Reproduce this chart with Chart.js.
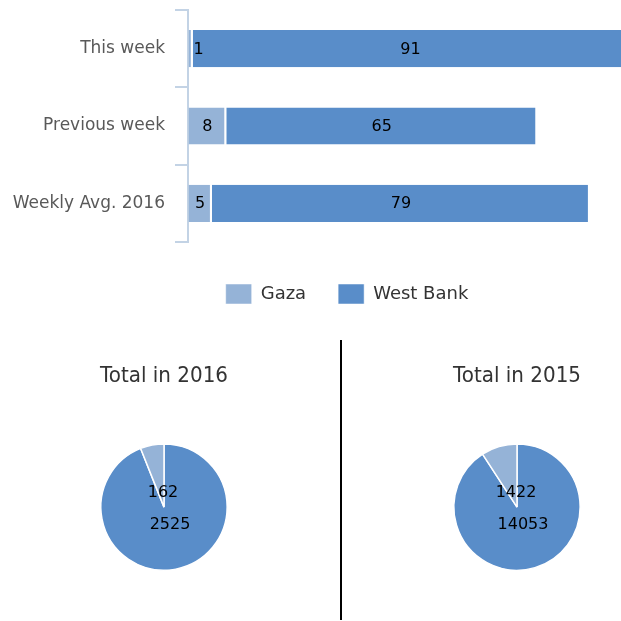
<!DOCTYPE html>
<html>
<head>
<meta charset="utf-8">
<script src="https://cdn.jsdelivr.net/npm/chart.js@4.4.0/dist/chart.umd.min.js"></script>
<style>
  html, body { margin: 0; padding: 0; background: #fff; }
  body { width: 621px; height: 621px; position: relative; overflow: hidden; }
  canvas { position: absolute; }
  #bars { left: 0; top: 0; }
  #pie2016 { left: 60px; top: 340px; }
  #pie2015 { left: 413px; top: 340px; }
  #divider { position: absolute; left: 340px; top: 340px; width: 2px; height: 280px; background: #000; }
</style>
</head>
<body>
<canvas id="bars" width="621" height="314"></canvas>
<div id="divider"></div>
<canvas id="pie2016" width="208" height="280"></canvas>
<canvas id="pie2015" width="208" height="280"></canvas>
<script>
/* ── Data ───────────────────────────────────────────────────── */
const periods   = ['This week', 'Previous week', 'Weekly Avg. 2016'];
const seriesNames = ['Gaza', 'West Bank'];
const gazaWeekly = [1, 8, 5];
const westBankWeekly = [91, 65, 79];

const pieLabels = ['West Bank', 'Gaza'];
const total2016 = [2525, 162];
const total2015 = [14053, 1422];

/* ── Palette ────────────────────────────────────────────────── */
const palette = {
    gaza:  '#95b3d7',
    west:  '#598dc9',
    axis:  '#c3d3e5',
    label: '#595959',
    text:  '#333333',
};
const FONT = "'DejaVu Sans', Verdana, sans-serif";

/* value labels inside the stacked bars */
const barLabels = {
    id: 'barLabels',
    afterDatasetsDraw(chart) {
        const ctx = chart.ctx;
        ctx.save();
        ctx.font = '16px ' + FONT;
        ctx.fillStyle = '#000';
        ctx.textAlign = 'center';
        ctx.textBaseline = 'middle';
        chart.data.datasets.forEach((ds, i) => {
            chart.getDatasetMeta(i).data.forEach((bar, j) => {
                const txt = String(ds.data[j]);
                const tw = ctx.measureText(txt).width;
                const x = Math.max((bar.x + bar.base) / 2, bar.base + tw / 2 + 5);
                ctx.fillText(txt, x, bar.y + 1);
            });
        });
        ctx.restore();
    },
};

// legend sits left of the bar area's centre, so the legend box runs past the right edge
new Chart(document.getElementById('bars'), {
    type: 'bar',
    data: {
        labels: periods,
        datasets: [
            { label: seriesNames[0], data: gazaWeekly, backgroundColor: palette.gaza },
            { label: seriesNames[1], data: westBankWeekly, backgroundColor: palette.west },
        ],
    },
    options: {
        indexAxis: 'y',
        responsive: false,
        animation: false,
        datasets: {
            bar: {
                barPercentage: 0.48,
                categoryPercentage: 1,
                borderColor: '#fff',
                borderSkipped: false,
                borderWidth: { left: 0, top: 0, bottom: 0, right: 2 },
            },
        },
        layout: { padding: { top: 10, left: 0, right: -73, bottom: 0 } },
        scales: {
            x: {
                stacked: true,
                min: 0,
                max: 90.5,
                ticks: { display: false },
                border: { display: false },
                grid: { drawOnChartArea: false, drawTicks: true, tickLength: 10, color: 'rgba(0,0,0,0)' },
            },
            y: {
                stacked: true,
                afterFit: s => { s.width = 188; s.paddingTop = 0; s.paddingBottom = 0; },
                border: { color: palette.axis, width: 2 },
                grid: { drawOnChartArea: false, tickLength: 13, color: palette.axis, lineWidth: 2 },
                ticks: { color: palette.label, padding: 10, font: { family: FONT, size: 17 } },
            },
        },
        plugins: {
            tooltip: { enabled: false },
            legend: {
                position: 'bottom',
                labels: {
                    color: palette.text,
                    boxWidth: 26,
                    boxHeight: 20,
                    padding: 32,
                    font: { family: FONT, size: 18 },
                },
            },
        },
    },
    plugins: [barLabels],
});

/* ── Pies ───────────────────────────────────────────────────── */
const pieLabelOffsets = { 'West Bank': [6, 18], 'Gaza': [-1, -14] };

const pieValues = {
    id: 'pieValues',
    afterDatasetsDraw(chart) {
        const ctx = chart.ctx;
        const arc = chart.getDatasetMeta(0).data[0];
        ctx.save();
        ctx.font = '16px ' + FONT;
        ctx.fillStyle = '#000';
        ctx.textAlign = 'center';
        ctx.textBaseline = 'middle';
        chart.data.labels.forEach((lab, i) => {
            const [dx, dy] = pieLabelOffsets[lab];
            ctx.fillText(String(chart.data.datasets[0].data[i]), arc.x + dx, arc.y + dy);
        });
        ctx.restore();
    },
};

function makePie(id, title, values) {
    new Chart(document.getElementById(id), {
        type: 'pie',
        data: {
            labels: pieLabels,
            datasets: [{
                data: values,
                backgroundColor: [palette.west, palette.gaza],
                borderColor: '#fff',
                borderWidth: 1.5,
            }],
        },
        options: {
            responsive: false,
            animation: false,
            layout: { padding: { left: 40, right: 40, top: 0, bottom: 49 } },
            plugins: {
                legend: { display: false },
                tooltip: { enabled: false },
                title: {
                    display: true,
                    text: title,
                    color: palette.text,
                    font: { family: FONT, size: 21, weight: 'normal' },
                    padding: { top: 24, bottom: 54 },
                },
            },
        },
        plugins: [pieValues],
    });
}

makePie('pie2016', 'Total in 2016', total2016);
makePie('pie2015', 'Total in 2015', total2015);
</script>
</body>
</html>
